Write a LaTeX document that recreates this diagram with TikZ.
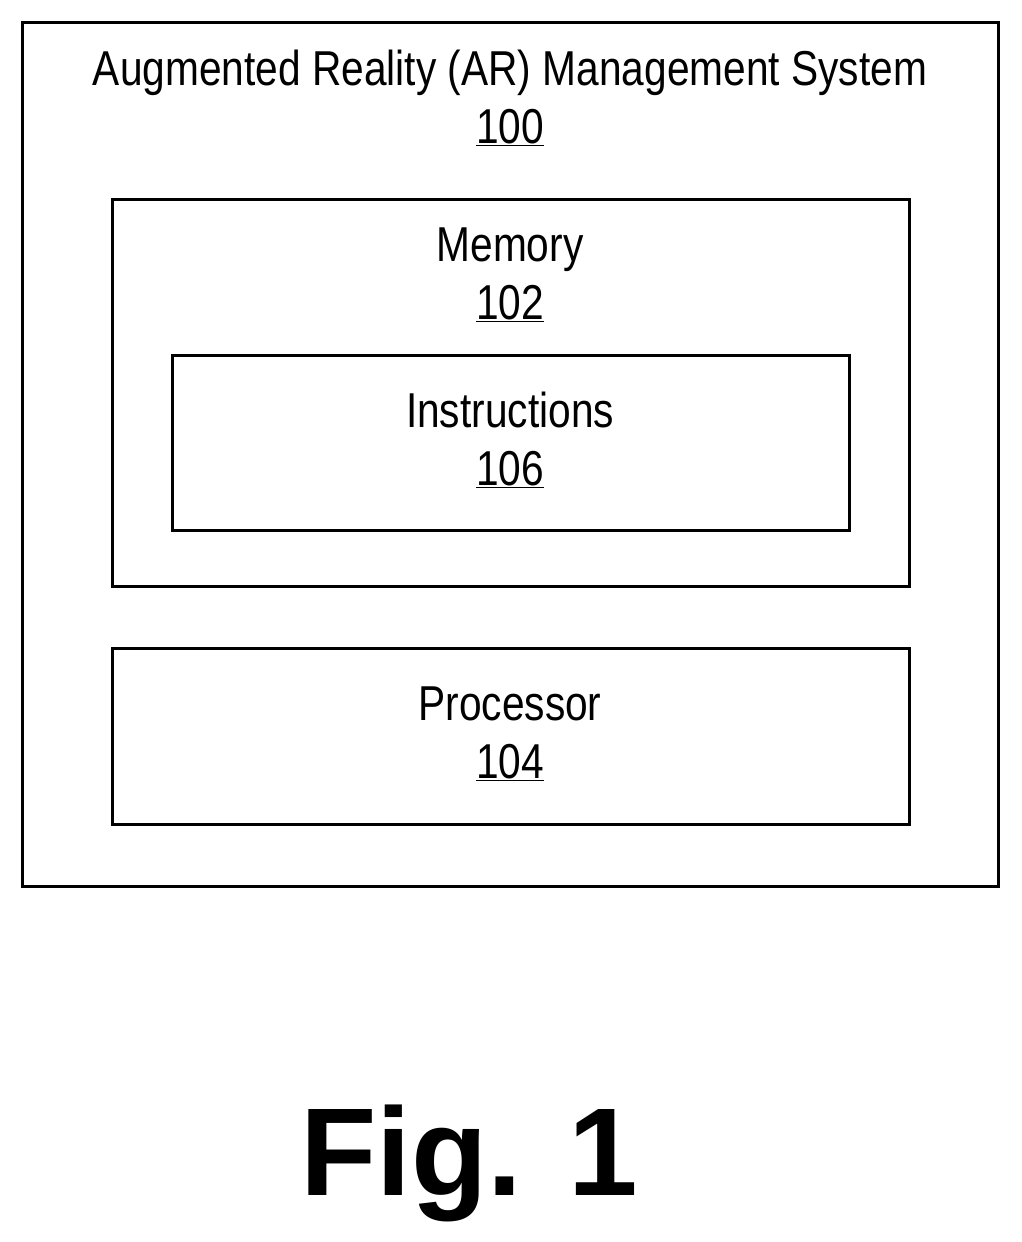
\documentclass[tikz,border=0pt]{standalone}
\usepackage{fontspec}
\setmainfont{Liberation Sans}
\newfontfamily\narrow[FakeStretch=0.83]{Liberation Sans}
\begin{document}
\begin{tikzpicture}[x=1pt,y=-1pt,
  box/.style={draw,line width=3pt},
  lbl/.style={font=\narrow\fontsize{49}{58}\selectfont,align=center,inner sep=0pt}]
\useasboundingbox (0,0) rectangle (1021,1242);
\draw[box] (22,22) rectangle (998,886);
\draw[box] (112,199) rectangle (909,586);
\draw[box] (172,355) rectangle (849,530);
\draw[box] (112,648) rectangle (909,824);
\node[lbl] (t100) at (510,98) {Augmented Reality (AR) Management System\\\underline{100}};
\node[lbl] (t102) at (510,275) {Memory\\\underline{102}};
\node[lbl] (t106) at (510,440) {Instructions\\\underline{106}};
\node[lbl] (t104) at (510,734) {Processor\\\underline{104}};
\node[font=\bfseries\fontsize{125}{125}\selectfont,inner sep=0pt] (fig) at (469,1163) {Fig. 1};
\end{tikzpicture}
\end{document}
